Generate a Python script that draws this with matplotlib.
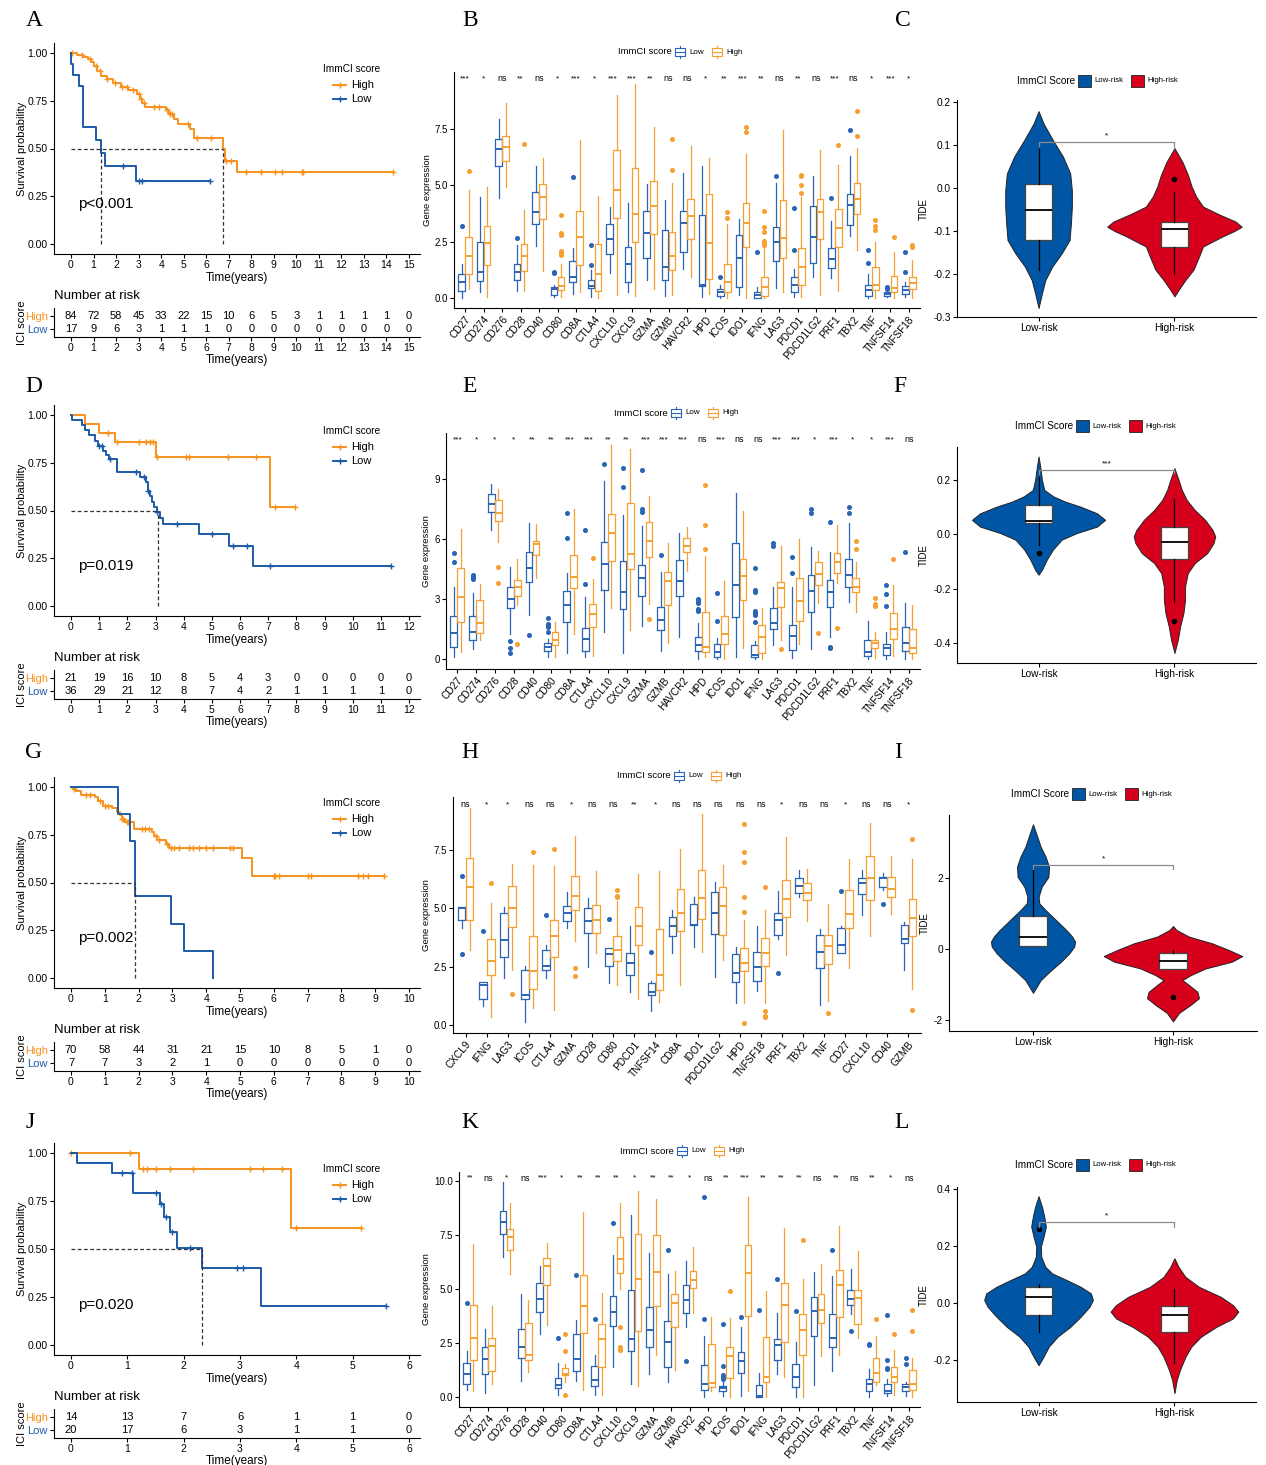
import numpy as np
import matplotlib
matplotlib.use("Agg")
import matplotlib.pyplot as plt
from matplotlib.patches import Rectangle
from matplotlib.lines import Line2D

W, H = 1266, 1465
KM_HIGH = "#F7931E"
KM_LOW = "#1D5AA8"
BOX_LOW = "#2A64B4"
BOX_HIGH = "#F7A032"
VIO_LOW = "#0055A4"
VIO_HIGH = "#D7001C"

plt.rcParams["font.family"] = ["Liberation Sans", "DejaVu Sans"]
plt.rcParams["axes.linewidth"] = 0.8
plt.rcParams["axes.unicode_minus"] = False
plt.rcParams["xtick.major.size"] = 3
plt.rcParams["ytick.major.size"] = 3
plt.rcParams["xtick.major.width"] = 0.8
plt.rcParams["ytick.major.width"] = 0.8

# ---------------- Kaplan-Meier data ----------------
A_hi_t = [0.25, 0.55, 0.75, 0.9, 1.0, 1.15, 1.35, 1.6, 1.85, 2.2, 2.55, 2.95, 3.05, 3.15, 3.3,
          4.2, 4.35, 4.55, 4.75, 5.3, 5.45, 6.75, 6.85, 7.38]
A_hi_s = [0.988, 0.976, 0.964, 0.952, 0.93, 0.905, 0.88, 0.86, 0.84, 0.82, 0.805, 0.785, 0.76,
          0.735, 0.715, 0.70, 0.68, 0.655, 0.63, 0.60, 0.555, 0.50, 0.435, 0.38]
A_hi_c = [0.05, 0.5, 0.85, 1.1, 1.3, 1.6, 1.95, 2.25, 2.5, 2.75, 3.0, 3.1, 3.25, 3.7, 3.9, 4.25,
          4.4, 4.5, 5.2, 5.6, 6.2, 6.9, 7.1, 7.75, 8.45, 9.05, 9.35, 10.25, 10.3, 14.3]
A_lo_t = [0.02, 0.07, 0.35, 0.52, 1.13, 1.33, 1.5, 2.88]
A_lo_s = [0.941, 0.882, 0.824, 0.612, 0.545, 0.478, 0.41, 0.328]
A_lo_c = [2.3, 3.0, 3.15, 6.15]
A_med = [1.33, 6.75]
A_risk_hi = [84, 72, 58, 45, 33, 22, 15, 10, 6, 5, 3, 1, 1, 1, 1, 0]
A_risk_lo = [17, 9, 6, 3, 1, 1, 1, 0, 0, 0, 0, 0, 0, 0, 0, 0]

D_hi_t = [0.5, 1.0, 1.56, 3.01, 7.08]
D_hi_s = [0.952, 0.905, 0.857, 0.778, 0.519]
D_hi_c = [1.3, 1.65, 2.4, 2.65, 2.8, 2.92, 3.05, 4.1, 4.18, 5.58, 6.58, 7.23, 7.94]
D_lo_t = [0.05, 0.4, 0.5, 0.65, 0.85, 0.95, 1.15, 1.25, 1.35, 1.65, 2.45, 2.65, 2.72, 2.75, 2.8,
          2.87, 2.95, 3.05, 3.15, 3.25, 4.55, 5.6, 6.45]
D_lo_s = [0.972, 0.945, 0.918, 0.891, 0.864, 0.837, 0.81, 0.79, 0.77, 0.70, 0.675, 0.65, 0.625,
          0.60, 0.575, 0.545, 0.52, 0.49, 0.46, 0.43, 0.375, 0.315, 0.21]
D_lo_c = [1.0, 1.1, 1.4, 2.3, 2.6, 2.75, 3.05, 3.75, 5.0, 5.75, 6.25, 7.05, 11.35]
D_med = [3.1]
D_risk_hi = [21, 19, 16, 10, 8, 5, 4, 3, 0, 0, 0, 0, 0]
D_risk_lo = [36, 29, 21, 12, 8, 7, 4, 2, 1, 1, 1, 1, 0]

G_hi_t = [0.05, 0.15, 0.3, 0.7, 0.8, 0.95, 1.2, 1.35, 1.45, 1.5, 1.6, 1.85, 2.4, 2.45, 2.55,
          2.8, 2.9, 5.05, 5.35]
G_hi_s = [0.99, 0.975, 0.955, 0.945, 0.925, 0.90, 0.89, 0.87, 0.85, 0.83, 0.815, 0.78, 0.765,
          0.745, 0.72, 0.70, 0.68, 0.63, 0.535]
G_hi_c = [0.1, 0.45, 0.55, 0.85, 1.0, 1.1, 1.5, 1.55, 1.65, 1.7, 2.1, 2.2, 2.3, 2.5, 2.6, 2.85,
          2.95, 3.05, 3.2, 3.5, 3.6, 3.8, 4.0, 4.2, 4.7, 4.8, 6.0, 6.05, 6.15, 7.0, 7.1, 8.5,
          8.65, 8.8, 9.25]
G_lo_t = [1.4, 1.75, 1.9, 2.95, 3.35, 4.2]
G_lo_s = [0.857, 0.714, 0.429, 0.286, 0.143, 0.0]
G_lo_c = []
G_med = [1.9]
G_risk_hi = [70, 58, 44, 31, 21, 15, 10, 8, 5, 1, 0]
G_risk_lo = [7, 7, 3, 2, 1, 0, 0, 0, 0, 0, 0]

J_hi_t = [1.2, 3.9]
J_hi_s = [0.917, 0.611]
J_hi_c = [0.0, 1.05, 1.28, 1.35, 1.5, 1.75, 2.17, 3.17, 3.4, 3.75, 4.0, 5.15]
J_lo_t = [0.1, 0.72, 1.1, 1.58, 1.65, 1.75, 1.88, 2.33, 3.38]
J_lo_s = [0.947, 0.895, 0.789, 0.733, 0.666, 0.586, 0.505, 0.404, 0.202]
J_lo_c = [0.9, 1.08, 1.5, 1.6, 1.68, 1.8, 2.12, 2.95, 3.05, 5.6]
J_med = [2.33]
J_risk_hi = [14, 13, 7, 6, 1, 1, 0]
J_risk_lo = [20, 17, 6, 3, 1, 1, 0]

# ---------------- boxplot data: (whisker low, q1, median, q3, whisker high) ----------------
genes_main = ["CD27", "CD274", "CD276", "CD28", "CD40", "CD80", "CD8A", "CTLA4", "CXCL10",
              "CXCL9", "GZMA", "GZMB", "HAVCR2", "HPD", "ICOS", "IDO1", "IFNG", "LAG3",
              "PDCD1", "PDCD1LG2", "PRF1", "TBX2", "TNF", "TNFSF14", "TNFSF18"]

B_low = [(0.0, 0.3, 0.72, 1.05, 1.5), (0.25, 0.75, 1.15, 2.5, 4.5), (4.45, 5.85, 6.6, 7.05, 7.95),
         (0.3, 0.8, 1.15, 1.5, 2.35), (2.3, 3.3, 3.8, 4.7, 5.85), (0.05, 0.15, 0.4, 0.5, 0.6),
         (0.2, 0.7, 0.92, 1.65, 2.2), (0.05, 0.45, 0.55, 0.8, 1.25), (1.1, 1.95, 2.6, 3.3, 4.05),
         (0.25, 0.7, 1.5, 2.25, 4.2), (0.8, 1.8, 2.9, 3.85, 5.05), (0.1, 0.8, 1.4, 3.0, 4.35),
         (1.3, 2.05, 3.35, 3.85, 5.55), (0.05, 0.55, 0.6, 3.7, 5.85), (0.0, 0.1, 0.25, 0.4, 0.6),
         (0.15, 0.5, 1.8, 2.8, 3.5), (0.0, 0.02, 0.15, 0.25, 0.5), (0.45, 1.65, 2.5, 3.15, 5.1),
         (0.05, 0.25, 0.6, 0.95, 1.3), (0.95, 1.55, 2.7, 4.1, 5.4), (0.9, 1.35, 1.75, 2.2, 3.4),
         (2.75, 3.25, 4.15, 4.6, 6.3), (0.0, 0.1, 0.35, 0.6, 1.05), (0.05, 0.1, 0.18, 0.25, 0.35),
         (0.05, 0.2, 0.35, 0.55, 0.7)]
B_low_out = [[3.2], [], [], [2.65], [], [1.1, 1.15], [5.35], [1.45, 2.35], [], [], [], [], [], [],
             [0.95], [], [2.05], [5.4], [2.15, 4.0], [], [4.45], [7.45], [1.55, 2.15],
             [0.4, 0.45, 0.5], [1.15, 2.05]]
B_high = [(0.4, 1.05, 1.85, 2.7, 4.8), (0.05, 1.45, 2.45, 3.2, 4.95), (4.95, 6.1, 6.7, 7.2, 8.65),
          (0.3, 1.2, 1.85, 2.4, 3.9), (1.2, 3.5, 4.5, 5.05, 6.2), (0.05, 0.35, 0.55, 0.95, 1.5),
          (0.25, 1.45, 2.7, 3.85, 7.0), (0.0, 0.3, 1.05, 2.4, 4.55), (0.15, 3.55, 4.8, 6.55, 9.0),
          (0.1, 2.5, 3.75, 5.75, 9.5), (0.4, 2.85, 4.1, 5.2, 7.6), (0.15, 1.25, 1.85, 2.95, 5.1),
          (0.95, 2.6, 3.65, 4.4, 6.75), (0.2, 0.85, 2.45, 4.6, 6.2), (0.0, 0.25, 0.7, 1.5, 3.3),
          (0.0, 2.25, 3.35, 4.2, 6.4), (0.0, 0.1, 0.5, 0.95, 2.2), (0.25, 1.8, 2.65, 4.35, 7.45),
          (0.05, 0.6, 1.4, 2.2, 4.5), (0.15, 2.6, 3.8, 4.4, 6.55), (0.3, 2.25, 3.1, 3.95, 5.9),
          (2.15, 3.75, 4.4, 5.1, 6.65), (0.0, 0.35, 0.6, 1.4, 2.5), (0.0, 0.25, 0.45, 1.0, 2.05),
          (0.0, 0.4, 0.65, 0.95, 1.7)]
B_high_out = [[5.65], [], [], [6.85], [], [1.9, 2.0, 2.1, 2.8, 2.85, 2.9, 3.7], [], [], [], [], [],
              [5.7, 7.05], [], [], [3.55, 3.8], [7.35, 7.6], [2.35, 2.45, 2.55, 2.95, 3.15, 3.85],
              [], [4.65, 5.0, 5.4, 5.45], [], [6.8], [7.2, 8.3], [3.0, 3.2, 3.45], [2.7],
              [2.25, 2.35]]
B_sig = ["***", "*", "ns", "**", "ns", "*", "***", "*", "***", "***", "**", "ns", "ns", "*", "**",
         "***", "**", "ns", "**", "ns", "***", "ns", "*", "***", "*"]

E_low = [(0.1, 0.6, 1.3, 2.15, 3.6), (0.5, 0.95, 1.35, 2.15, 3.3), (6.45, 7.35, 7.75, 8.25, 8.75),
         (1.25, 2.55, 3.0, 3.6, 4.6), (2.2, 3.85, 4.55, 5.35, 6.8), (0.1, 0.4, 0.6, 0.8, 1.0),
         (0.3, 1.85, 2.7, 3.4, 4.3), (0.1, 0.4, 1.0, 1.55, 3.1), (1.35, 3.45, 4.75, 5.85, 8.9),
         (0.3, 2.5, 3.35, 4.9, 7.2), (1.65, 3.15, 4.05, 4.7, 6.65), (0.4, 1.45, 1.95, 2.6, 4.35),
         (1.1, 3.15, 3.9, 4.95, 6.3), (0.0, 0.4, 0.7, 1.1, 1.8), (0.0, 0.1, 0.35, 0.75, 1.05),
         (0.1, 2.1, 3.7, 5.8, 8.3), (0.0, 0.1, 0.2, 0.7, 0.9), (0.7, 1.5, 1.8, 2.55, 3.6),
         (0.05, 0.45, 1.15, 1.7, 3.6), (0.5, 2.35, 3.4, 4.2, 5.6), (1.1, 2.6, 3.35, 3.95, 5.35),
         (2.85, 3.6, 4.2, 5.0, 6.8), (0.0, 0.15, 0.35, 0.95, 1.9), (0.0, 0.2, 0.55, 0.75, 1.35),
         (0.0, 0.4, 0.8, 1.6, 2.8)]
E_low_out = [[4.85, 5.3], [4.0, 4.1, 4.2], [], [0.3, 0.55, 0.9], [1.2], [1.35, 1.6, 1.7, 1.75, 2.05],
             [6.05, 7.3], [3.75, 6.45], [9.75], [8.6, 9.55], [7.35, 7.5, 9.45], [5.2], [],
             [2.4, 2.5, 2.8, 2.9, 3.0], [1.9, 3.3], [], [1.85, 2.2, 2.3, 2.4, 3.35, 3.45, 4.55],
             [5.65, 5.8], [4.3, 5.1], [7.3, 7.5], [0.55, 0.6, 6.85], [7.3, 7.6], [],
             [2.65, 3.25, 3.7], [5.35]]
E_high = [(0.35, 1.85, 3.1, 4.55, 6.5), (0.95, 1.3, 1.8, 2.95, 3.75), (5.85, 6.9, 7.3, 7.95, 8.5),
          (2.7, 3.15, 3.6, 3.95, 5.0), (4.05, 5.2, 5.75, 5.9, 6.75), (0.1, 0.7, 0.95, 1.35, 1.85),
          (1.25, 3.55, 4.1, 5.2, 7.5), (0.15, 1.6, 2.25, 2.75, 4.0), (2.55, 4.9, 6.3, 7.25, 10.7),
          (1.45, 4.5, 5.25, 7.8, 10.5), (2.75, 5.1, 5.9, 6.85, 8.15), (0.8, 2.7, 3.9, 4.35, 5.8),
          (4.4, 5.35, 5.65, 6.05, 6.6), (0.1, 0.35, 0.6, 2.35, 5.15), (0.0, 0.75, 1.25, 2.15, 3.9),
          (0.55, 2.95, 4.15, 5.0, 7.4), (0.0, 0.3, 1.1, 1.7, 2.55), (0.95, 2.6, 3.55, 3.85, 5.65),
          (0.75, 1.9, 2.9, 4.05, 6.0), (2.8, 3.7, 4.25, 4.85, 5.4), (3.8, 4.3, 4.85, 5.3, 6.7),
          (2.35, 3.35, 3.6, 4.05, 4.85), (0.05, 0.55, 0.8, 0.95, 1.35), (0.15, 1.0, 1.5, 2.3, 3.7),
          (0.0, 0.3, 0.55, 1.5, 2.7)]
E_high_out = [[], [], [3.8, 4.6], [0.75], [], [], [], [5.05], [], [], [2.0], [], [],
              [5.5, 6.7, 8.7], [], [], [], [0.5], [], [1.3], [1.55], [5.5, 5.9],
              [2.65, 2.75, 3.05], [5.0], []]
E_sig = ["***", "*", "*", "*", "**", "**", "***", "***", "**", "**", "***", "***", "***", "ns",
         "***", "ns", "ns", "***", "***", "*", "***", "*", "*", "***", "ns"]

genes_H = ["CXCL9", "IFNG", "LAG3", "ICOS", "CTLA4", "GZMA", "CD28", "CD80", "PDCD1", "TNFSF14",
           "CD8A", "IDO1", "PDCD1LG2", "HPD", "TNFSF18", "PRF1", "TBX2", "TNF", "CD27", "CXCL10",
           "CD40", "GZMB"]
H_low = [(4.15, 4.5, 5.0, 5.05, 5.05), (0.8, 1.1, 1.7, 1.85, 1.85), (2.0, 2.9, 3.65, 4.8, 5.05),
         (0.15, 1.1, 1.3, 2.35, 2.55), (2.0, 2.35, 2.55, 3.2, 3.45), (4.15, 4.45, 4.8, 5.1, 5.7),
         (2.5, 3.95, 4.45, 5.0, 5.45), (1.8, 2.55, 3.05, 3.3, 3.3), (1.4, 2.15, 2.65, 3.1, 4.25),
         (0.6, 1.3, 1.4, 1.8, 1.9), (3.1, 3.8, 4.25, 4.65, 4.95), (3.35, 4.3, 4.3, 5.2, 5.5),
         (2.05, 3.9, 4.8, 5.7, 6.15), (0.95, 1.85, 2.25, 3.05, 3.35), (1.45, 1.9, 2.5, 3.15, 4.25),
         (3.7, 3.85, 4.5, 4.8, 5.75), (5.5, 5.65, 5.95, 6.3, 6.65), (0.85, 2.45, 3.15, 3.85, 4.1),
         (3.1, 3.1, 3.45, 4.15, 4.25), (4.7, 5.6, 6.1, 6.3, 6.65), (5.8, 5.9, 6.3, 6.35, 6.5),
         (2.35, 3.5, 3.7, 4.3, 4.4)]
H_low_out = [[3.05, 6.4], [4.05], [], [], [4.7], [], [], [4.55], [], [3.15], [], [], [], [], [],
             [2.25], [], [], [5.75], [], [5.2], []]
H_high = [(3.2, 4.5, 5.9, 7.15, 9.3), (0.35, 2.15, 2.75, 3.7, 5.25), (2.35, 4.2, 5.0, 5.95, 6.9),
          (0.75, 1.55, 2.3, 3.8, 6.85), (0.65, 2.9, 3.8, 4.5, 6.8), (3.6, 4.95, 5.55, 6.4, 8.1),
          (3.1, 3.95, 4.5, 5.15, 6.6), (1.7, 2.75, 3.2, 3.8, 5.3), (1.1, 3.45, 4.25, 5.05, 6.45),
          (1.0, 1.5, 2.15, 4.1, 6.6), (1.7, 4.05, 4.8, 5.85, 7.55), (3.15, 4.55, 5.45, 6.65, 9.05),
          (2.8, 3.85, 5.1, 5.9, 6.85), (0.95, 2.3, 2.65, 3.3, 4.5), (0.95, 2.55, 3.1, 3.75, 4.95),
          (3.0, 4.65, 5.4, 6.2, 8.05), (4.45, 5.35, 5.65, 6.1, 6.7), (1.05, 2.6, 3.4, 3.85, 5.2),
          (2.45, 4.15, 4.75, 5.8, 7.1), (3.8, 5.35, 6.3, 7.25, 8.65), (4.75, 5.5, 5.85, 6.35, 7.25),
          (1.55, 3.8, 4.6, 5.4, 7.1)]
H_high_out = [[], [6.1], [1.35], [7.4], [7.55], [2.1, 2.45], [], [5.5, 5.55, 5.8], [], [], [], [],
              [], [0.1, 4.85, 5.5, 7.0, 7.4, 8.6], [0.35, 0.4, 0.6, 5.9], [], [], [0.5], [], [],
              [], [0.65, 7.95]]
H_sig = ["ns", "*", "*", "ns", "ns", "*", "ns", "ns", "**", "*", "ns", "ns", "ns", "ns", "ns", "*",
         "ns", "ns", "*", "ns", "ns", "*"]

K_low = [(0.35, 0.6, 1.05, 1.6, 2.15), (0.2, 1.05, 1.75, 2.3, 3.15), (6.5, 7.55, 8.1, 8.6, 9.95),
         (0.75, 1.8, 2.3, 3.15, 4.75), (2.9, 3.95, 4.55, 5.3, 6.05), (0.1, 0.4, 0.55, 0.9, 1.6),
         (0.75, 1.2, 1.75, 2.9, 3.55), (0.1, 0.5, 0.8, 1.45, 1.95), (1.4, 3.3, 3.95, 4.7, 6.6),
         (0.6, 2.15, 2.7, 4.95, 8.45), (1.05, 2.3, 3.1, 4.15, 6.65), (0.7, 1.4, 2.55, 3.5, 5.7),
         (3.25, 3.9, 4.5, 5.2, 6.3), (0.0, 0.35, 0.6, 1.5, 2.85), (0.05, 0.3, 0.4, 0.5, 0.7),
         (0.05, 1.1, 1.65, 2.1, 3.25), (0.0, 0.02, 0.05, 0.55, 1.1), (1.05, 1.7, 2.4, 2.7, 3.9),
         (0.0, 0.45, 0.95, 1.55, 2.55), (0.55, 2.85, 4.0, 4.65, 5.8), (1.2, 2.3, 2.75, 3.85, 5.6),
         (3.85, 4.25, 4.55, 4.95, 5.95), (0.0, 0.3, 0.6, 0.85, 1.3), (0.05, 0.2, 0.3, 0.6, 0.85),
         (0.05, 0.3, 0.45, 0.6, 0.7)]
K_low_out = [[4.35], [], [], [], [], [2.75], [5.65], [3.6], [8.05], [], [], [6.8], [1.65],
             [3.6, 9.25], [0.85, 0.95, 1.0, 1.45, 3.4], [3.7], [4.05], [5.45], [4.0], [], [6.8],
             [3.05], [2.4, 2.45], [1.3, 1.35, 1.7, 3.8], [1.55, 1.8]]
K_high = [(0.3, 1.7, 2.75, 4.25, 7.1), (0.6, 1.2, 2.35, 2.75, 4.2), (5.7, 6.8, 7.4, 7.8, 9.0),
          (1.15, 1.7, 1.95, 3.45, 4.5), (3.35, 5.2, 6.05, 6.45, 7.15), (0.7, 1.0, 1.05, 1.35, 1.55),
          (0.35, 2.95, 4.2, 5.65, 8.55), (0.1, 1.4, 2.7, 3.4, 4.8), (5.0, 5.75, 6.4, 7.4, 9.0),
          (0.5, 3.05, 5.45, 7.55, 9.55), (1.95, 4.2, 5.8, 7.5, 9.15), (1.25, 3.25, 4.35, 4.75, 5.85),
          (3.9, 5.05, 5.4, 5.85, 6.95), (0.3, 0.45, 0.65, 2.45, 3.7), (0.0, 0.9, 1.9, 2.3, 3.65),
          (0.3, 3.75, 5.75, 7.05, 9.25), (0.0, 0.7, 0.95, 2.8, 4.9), (0.95, 2.55, 4.25, 5.3, 7.85),
          (0.0, 1.95, 3.1, 3.85, 5.45), (1.9, 3.45, 4.05, 4.75, 6.15), (1.95, 3.7, 5.2, 5.9, 7.9),
          (2.75, 3.4, 4.6, 4.95, 6.75), (0.55, 0.7, 1.1, 1.8, 2.85), (0.1, 0.7, 0.95, 1.4, 2.2),
          (0.0, 0.35, 0.6, 1.25, 1.8)]
K_high_out = [[], [], [], [], [], [0.1, 2.15, 2.9], [], [], [2.2, 2.3, 3.25], [], [], [], [], [],
              [4.9], [], [], [], [7.25], [], [], [], [3.6], [2.9], [3.05, 4.05]]
K_sig = ["**", "ns", "*", "ns", "***", "*", "**", "**", "**", "*", "**", "**", "*", "ns", "**",
         "***", "**", "**", "**", "ns", "**", "ns", "**", "*", "ns"]

# ---------------- violin data: outline (TIDE level, half width) and box stats ----------------
C_lo_y = [0.179, 0.15, 0.112, 0.073, 0.034, -0.005, -0.044, -0.083, -0.121, -0.152, -0.183, -0.214, -0.245, -0.279]
C_lo_w = [0.0, 0.037, 0.105, 0.18, 0.233, 0.245, 0.245, 0.238, 0.228, 0.17, 0.10, 0.05, 0.025, 0.0]
C_hi_y = [0.093, 0.06, 0.03, 0.003, -0.02, -0.043, -0.06, -0.078, -0.09, -0.10, -0.113, -0.136, -0.16, -0.19, -0.214, -0.237, -0.252]
C_hi_w = [0.0, 0.06, 0.10, 0.127, 0.16, 0.21, 0.32, 0.45, 0.495, 0.44, 0.35, 0.21, 0.18, 0.14, 0.08, 0.03, 0.0]
C_box = [(-0.19, -0.12, -0.05, 0.01, 0.09), (-0.2, -0.138, -0.095, -0.08, -0.01)]
C_out = [[], [0.02]]
C_bracket = (0.098, 0.107, 0.093)
C_sig = "*"

F_lo_y = [0.286, 0.249, 0.2, 0.163, 0.139, 0.12, 0.102, 0.077, 0.053, 0.028, 0.004, -0.02, -0.057, -0.094, -0.131, -0.149]
F_lo_w = [0.0, 0.012, 0.025, 0.042, 0.11, 0.196, 0.306, 0.43, 0.49, 0.43, 0.28, 0.17, 0.105, 0.06, 0.025, 0.0]
F_hi_y = [0.243, 0.2, 0.163, 0.126, 0.089, 0.053, 0.016, -0.008, -0.033, -0.07, -0.106, -0.143, -0.192, -0.241, -0.29, -0.339, -0.388, -0.437]
F_hi_w = [0.0, 0.03, 0.054, 0.09, 0.15, 0.225, 0.28, 0.30, 0.287, 0.24, 0.15, 0.098, 0.078, 0.078, 0.066, 0.042, 0.025, 0.0]
F_box = [(-0.039, 0.04, 0.05, 0.108, 0.212), (-0.25, -0.092, -0.03, 0.025, 0.13)]
F_out = [[-0.07], [-0.32]]
F_bracket = (0.22, 0.237, 0.225)
F_sig = "***"

I_lo_y = [3.53, 3.17, 2.89, 2.61, 2.33, 2.04, 1.76, 1.48, 1.29, 1.1, 0.91, 0.72, 0.53, 0.35, 0.21, 0.07, -0.12, -0.36, -0.6, -0.88, -1.24]
I_lo_w = [0.0, 0.031, 0.055, 0.09, 0.114, 0.11, 0.062, 0.04, 0.045, 0.09, 0.14, 0.19, 0.24, 0.28, 0.30, 0.295, 0.26, 0.20, 0.13, 0.055, 0.0]
I_hi_y = [0.65, 0.54, 0.35, 0.16, -0.03, -0.2, -0.36, -0.55, -0.74, -0.88, -1.02, -1.21, -1.39, -1.58, -1.81, -2.05]
I_hi_w = [0.0, 0.024, 0.114, 0.28, 0.40, 0.495, 0.42, 0.233, 0.126, 0.067, 0.114, 0.174, 0.186, 0.126, 0.043, 0.0]
I_box = [(0.09, 0.094, 0.33, 0.94, 2.23), (-0.58, -0.58, -0.33, -0.1, -0.02)]
I_out = [[], [-1.37]]
I_bracket = (2.26, 2.37, 2.26)
I_sig = "*"

L_lo_y = [0.375, 0.338, 0.303, 0.268, 0.233, 0.198, 0.162, 0.127, 0.104, 0.08, 0.057, 0.034, 0.011, -0.013, -0.048, -0.083, -0.118, -0.153, -0.188, -0.218]
L_lo_w = [0.0, 0.025, 0.042, 0.054, 0.037, 0.017, 0.02, 0.05, 0.1, 0.21, 0.31, 0.385, 0.40, 0.375, 0.31, 0.235, 0.14, 0.075, 0.037, 0.0]
L_hi_y = [0.157, 0.127, 0.092, 0.057, 0.022, -0.007, -0.03, -0.054, -0.083, -0.118, -0.153, -0.188, -0.235, -0.27, -0.316]
L_hi_w = [0.0, 0.03, 0.08, 0.18, 0.34, 0.43, 0.47, 0.43, 0.31, 0.195, 0.124, 0.081, 0.04, 0.017, 0.0]
L_box = [(-0.1, -0.041, 0.02, 0.057, 0.066), (-0.21, -0.102, -0.041, -0.01, 0.048)]
L_out = [[0.26], []]
L_bracket = (0.266, 0.283, 0.266)
L_sig = "*"

fig = plt.figure(figsize=(W / 100, H / 100), dpi=100)


def px_axes(left, top, right, bottom):
    return fig.add_axes([left / W, 1 - bottom / H, (right - left) / W, (bottom - top) / H])


def fx(x):
    return x / W


def fy(y):
    return 1 - y / H


def surv_at(t_ev, s_ev, tq):
    idx = np.searchsorted(t_ev, tq, side="right")
    return np.concatenate([[1.0], s_ev])[idx]


def km_panel(top, bottom, tab_top, tmax, curves, meds, pval, risk_hi, risk_lo):
    left, right = 54, 420
    scale = 338 / tmax
    xlim = (-17 / scale, tmax + 11 / scale)
    ax = px_axes(left, top, right, bottom)
    for t_ev, s_ev, cens, col in curves:
        t_ev = np.asarray(t_ev, float)
        s_ev = np.asarray(s_ev, float)
        t_end = max([t_ev[-1]] + list(cens))
        xs = np.concatenate([[0], t_ev, [t_end]])
        ys = np.concatenate([[1], s_ev, [s_ev[-1]]])
        ax.step(xs, ys, where="post", color=col, lw=1.4)
        if len(cens):
            ax.plot(cens, surv_at(t_ev, s_ev, np.asarray(cens)), ls="none", marker="+",
                    color=col, ms=5, mew=1.0)
    ax.plot([0, max(meds)], [0.5, 0.5], ls=(0, (3, 2)), color="#333333", lw=0.9)
    for m in meds:
        ax.plot([m, m], [0, 0.5], ls=(0, (3, 2)), color="#333333", lw=0.9)
    ax.text(0.066, 0.235, pval, transform=ax.transAxes, fontsize=11, va="center", ha="left")
    ax.set_xlim(*xlim)
    ax.set_ylim(-0.05, 1.05)
    ax.set_xticks(range(tmax + 1))
    ax.set_yticks([0, 0.25, 0.5, 0.75, 1.0])
    ax.set_yticklabels(["0.00", "0.25", "0.50", "0.75", "1.00"])
    ax.tick_params(labelsize=7.5, pad=1.5)
    ax.set_xlabel("Time(years)", fontsize=8.5, labelpad=1)
    ax.set_ylabel("Survival probability", fontsize=8, labelpad=3)
    for s in ["top", "right"]:
        ax.spines[s].set_visible(False)
    # legend
    y1 = top + (bottom - top) * 0.05 / 1.1
    fig.text(fx(352), fy(y1 + 16), "ImmCI score", fontsize=7.3, ha="center", va="center")
    for dy, lab, col in [(32.5, "High", KM_HIGH), (46.5, "Low", KM_LOW)]:
        fig.add_artist(Line2D([fx(333), fx(346)], [fy(y1 + dy)] * 2, color=col, lw=1.4))
        fig.add_artist(Line2D([fx(339.5)], [fy(y1 + dy)], marker="+", color=col, ms=5, mew=1.0))
        fig.text(fx(351), fy(y1 + dy), lab, fontsize=8, ha="left", va="center")
    # risk table
    tab = px_axes(left, tab_top, right, tab_top + 28.6)
    for i, (nh, nl) in enumerate(zip(risk_hi, risk_lo)):
        tab.text(i, 2, str(nh), ha="center", va="center", fontsize=8)
        tab.text(i, 1, str(nl), ha="center", va="center", fontsize=8)
    tab.set_xlim(*xlim)
    tab.set_ylim(0.4, 2.6)
    tab.set_xticks(range(tmax + 1))
    tab.set_yticks([1, 2])
    tab.set_yticklabels(["Low", "High"])
    tab.get_yticklabels()[0].set_color(KM_LOW)
    tab.get_yticklabels()[1].set_color(KM_HIGH)
    tab.tick_params(labelsize=7.5, pad=1.5)
    tab.tick_params(axis="y", labelsize=8)
    tab.set_xlabel("Time(years)", fontsize=8.5, labelpad=1)
    tab.set_ylabel("ICI score", fontsize=8, labelpad=3)
    tab.yaxis.set_label_coords(-0.075, 0.5)
    ax.yaxis.set_label_coords(-0.075, 0.5)
    for s in ["top", "right"]:
        tab.spines[s].set_visible(False)
    fig.text(fx(54), fy(tab_top - 12), "Number at risk", fontsize=9.5, ha="left", va="center")


def box_legend(x0, yc):
    fig.text(fx(x0 - 3), fy(yc), "ImmCI score", fontsize=6.8, ha="right", va="center")
    for dx, lab, col in [(0, "Low", BOX_LOW), (37, "High", BOX_HIGH)]:
        fig.add_artist(Rectangle((fx(x0 + dx), fy(yc + 4)), 10 / W, 8 / H, transform=fig.transFigure,
                                 fill=False, edgecolor=col, lw=0.8))
        fig.add_artist(Line2D([fx(x0 + dx), fx(x0 + dx + 10)], [fy(yc)] * 2, color=col, lw=0.8))
        fig.add_artist(Line2D([fx(x0 + dx + 5)] * 2, [fy(yc - 6), fy(yc - 4)], color=col, lw=0.8))
        fig.add_artist(Line2D([fx(x0 + dx + 5)] * 2, [fy(yc + 4), fy(yc + 6)], color=col, lw=0.8))
        fig.text(fx(x0 + dx + 14), fy(yc), lab, fontsize=5.8, ha="left", va="center")


def box_panel(left, top, right, bottom, ylim, yticks, ylabels, genes, low, low_out, high, high_out,
              sig, sig_y, legend_x, legend_y):
    ax = px_axes(left, top, right, bottom)
    pos = np.arange(len(genes))
    for src, outs, off, col in [(low, low_out, -0.19, BOX_LOW), (high, high_out, 0.19, BOX_HIGH)]:
        stats = [dict(whislo=s[0], q1=s[1], med=s[2], q3=s[3], whishi=s[4], fliers=o)
                 for s, o in zip(src, outs)]
        ax.bxp(stats, positions=pos + off, widths=0.36, showcaps=False, manage_ticks=False,
               boxprops=dict(color=col, lw=0.9), medianprops=dict(color=col, lw=1.4),
               whiskerprops=dict(color=col, lw=0.9),
               flierprops=dict(marker="o", mfc=col, mec=col, ms=2.6, ls="none"))
    for i, s in enumerate(sig):
        ax.text(i, sig_y, s, ha="center", va="center", fontsize=6.5 if s == "ns" else 6)
    ax.set_xlim(-0.6, len(genes) - 0.4)
    ax.set_ylim(*ylim)
    ax.set_xticks(pos)
    ax.set_xticklabels(genes, rotation=50, ha="right", rotation_mode="anchor", fontsize=7.2)
    ax.set_yticks(yticks)
    ax.set_yticklabels(ylabels)
    ax.tick_params(axis="y", labelsize=7, pad=1.5)
    ax.tick_params(axis="x", pad=1.5)
    ax.set_ylabel("Gene expression", fontsize=6.8, labelpad=2)
    for s in ["top", "right"]:
        ax.spines[s].set_visible(False)
    box_legend(legend_x, legend_y)


def violin_panel(left, top, right, bottom, ylim, yticks, ylabels, lo_y, lo_w, hi_y, hi_w, boxes,
                 outs, bracket, sig, legend_x, legend_y):
    ax = px_axes(left, top, right, bottom)
    for pos, yy, ww, col in [(1, lo_y, lo_w, VIO_LOW), (2, hi_y, hi_w, VIO_HIGH)]:
        yy = np.asarray(yy)
        ww = np.asarray(ww)
        ax.fill_betweenx(yy, pos - ww, pos + ww, facecolor=col, edgecolor="#222222", lw=0.7)
    stats = [dict(whislo=b[0], q1=b[1], med=b[2], q3=b[3], whishi=b[4], fliers=o)
             for b, o in zip(boxes, outs)]
    ax.bxp(stats, positions=[1, 2], widths=0.2, patch_artist=True, showcaps=False,
           manage_ticks=False,
           boxprops=dict(facecolor="white", edgecolor="#444444", lw=0.9),
           medianprops=dict(color="black", lw=1.3), whiskerprops=dict(color="black", lw=0.9),
           flierprops=dict(marker="o", mfc="black", mec="black", ms=3, ls="none"))
    ax.plot([1, 1, 2, 2], [bracket[0], bracket[1], bracket[1], bracket[2]], color="#8C8C8C", lw=0.9)
    span = ylim[1] - ylim[0]
    ax.text(1.5, bracket[1] + 0.012 * span, sig, ha="center", va="bottom", fontsize=6)
    ax.set_xlim(0.4, 2.6)
    ax.set_ylim(*ylim)
    ax.set_xticks([1, 2])
    ax.set_xticklabels(["Low-risk", "High-risk"])
    ax.set_yticks(yticks)
    ax.set_yticklabels(ylabels)
    ax.tick_params(labelsize=7.3, pad=1.5)
    ax.set_ylabel("TIDE", fontsize=7, labelpad=3)
    for s in ["top", "right"]:
        ax.spines[s].set_visible(False)
    fig.text(fx(legend_x - 3), fy(legend_y), "ImmCI Score", fontsize=7.2, ha="right", va="center")
    for dx, lab, col in [(0, "Low-risk", VIO_LOW), (53, "High-risk", VIO_HIGH)]:
        fig.add_artist(Rectangle((fx(legend_x + dx), fy(legend_y + 6)), 13 / W, 12 / H,
                                 transform=fig.transFigure, facecolor=col, edgecolor="#222222",
                                 lw=0.6))
        fig.text(fx(legend_x + dx + 16), fy(legend_y), lab, fontsize=5.6, ha="left", va="center")


# ---------------- column 1: survival ----------------
km_panel(43, 254, 308, 15,
         [(A_hi_t, A_hi_s, A_hi_c, KM_HIGH), (A_lo_t, A_lo_s, A_lo_c, KM_LOW)],
         A_med, "p<0.001", A_risk_hi, A_risk_lo)
km_panel(405, 616, 670, 12,
         [(D_hi_t, D_hi_s, D_hi_c, KM_HIGH), (D_lo_t, D_lo_s, D_lo_c, KM_LOW)],
         D_med, "p=0.019", D_risk_hi, D_risk_lo)
km_panel(777, 988, 1042, 10,
         [(G_hi_t, G_hi_s, G_hi_c, KM_HIGH), (G_lo_t, G_lo_s, G_lo_c, KM_LOW)],
         G_med, "p=0.002", G_risk_hi, G_risk_lo)
km_panel(1143, 1355, 1409, 6,
         [(J_hi_t, J_hi_s, J_hi_c, KM_HIGH), (J_lo_t, J_lo_s, J_lo_c, KM_LOW)],
         J_med, "p=0.020", J_risk_hi, J_risk_lo)

# ---------------- column 2: gene expression ----------------
box_panel(454, 72, 920, 308, (-0.44, 10.03), [0, 2.5, 5, 7.5], ["0.0", "2.5", "5.0", "7.5"],
          genes_main, B_low, B_low_out, B_high, B_high_out, B_sig, 9.72, 675, 52)
box_panel(446, 433, 920, 669, (-0.5, 11.3), [0, 3, 6, 9], ["0", "3", "6", "9"],
          genes_main, E_low, E_low_out, E_high, E_high_out, E_sig, 10.95, 671, 413)
box_panel(453, 797, 921, 1033, (-0.34, 9.77), [0, 2.5, 5, 7.5], ["0.0", "2.5", "5.0", "7.5"],
          genes_H, H_low, H_low_out, H_high, H_high_out, H_sig, 9.43, 674, 776)
box_panel(459, 1172, 920, 1407, (-0.46, 10.42), [0, 2.5, 5, 7.5, 10],
          ["0.0", "2.5", "5.0", "7.5", "10.0"],
          genes_main, K_low, K_low_out, K_high, K_high_out, K_sig, 10.14, 677, 1151)

# ---------------- column 3: TIDE ----------------
violin_panel(957, 100, 1256, 317, (-0.3, 0.205), [-0.3, -0.2, -0.1, 0.0, 0.1, 0.2],
             ["-0.3", "-0.2", "-0.1", "0.0", "0.1", "0.2"],
             C_lo_y, C_lo_w, C_hi_y, C_hi_w, C_box, C_out, C_bracket, C_sig, 1078, 81)
violin_panel(957, 447, 1256, 663, (-0.474, 0.321), [-0.4, -0.2, 0.0, 0.2],
             ["-0.4", "-0.2", "0.0", "0.2"],
             F_lo_y, F_lo_w, F_hi_y, F_hi_w, F_box, F_out, F_bracket, F_sig, 1076, 426)
violin_panel(949, 815, 1257, 1031, (-2.32, 3.79), [-2, 0, 2], ["-2", "0", "2"],
             I_lo_y, I_lo_w, I_hi_y, I_hi_w, I_box, I_out, I_bracket, I_sig, 1072, 794)
violin_panel(957, 1187, 1256, 1402, (-0.347, 0.407), [-0.2, 0.0, 0.2, 0.4],
             ["-0.2", "0.0", "0.2", "0.4"],
             L_lo_y, L_lo_w, L_hi_y, L_hi_w, L_box, L_out, L_bracket, L_sig, 1076, 1165)

# ---------------- panel letters ----------------
letters = ["A", "B", "C", "D", "E", "F", "G", "H", "I", "J", "K", "L"]
letter_x = [34, 470, 903, 34, 470, 900, 34, 470, 898, 30, 470, 902]
letter_y = [20, 20, 20, 386, 386, 386, 752, 752, 752, 1122, 1122, 1122]
for lt, lx, ly in zip(letters, letter_x, letter_y):
    fig.text(fx(lx), fy(ly), lt, fontsize=17, ha="center", va="center",
             family=["Liberation Serif", "DejaVu Serif"])

fig.savefig("out.png", dpi=100)
